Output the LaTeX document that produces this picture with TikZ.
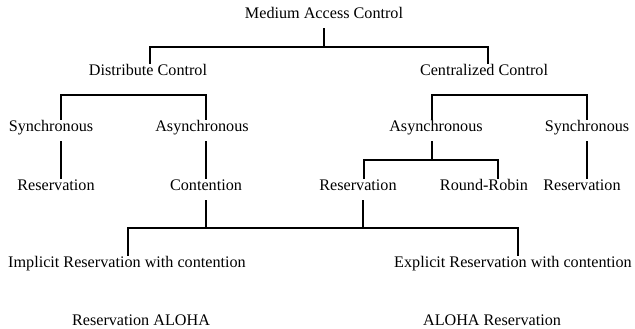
\documentclass[tikz,border=0pt]{standalone}
\usepackage{fontspec}
\setmainfont{Liberation Serif}
\usepackage{tikz}

\begin{document}
\begin{tikzpicture}[x=0.25mm, y=-0.25mm, txt/.style = {inner xsep=0pt, inner ysep=1pt,
	text height=0.7em, text depth=0.2em, font=\fontsize{11.5}{13}\selectfont},
	branch/.style = {line width=1.3pt}, stem/.style = {branch, shorten <=1.25mm}]

	\useasboundingbox (0,0) rectangle (635,329);

	\node (mac) [txt] at (324, 15) {Medium Access Control};

	\node (dc) [txt] at (148, 72) {Distribute Control};
	\node (cc) [txt] at (484, 72) {Centralized Control};

	\node (ds) [txt] at ( 51,128) {Synchronous};
	\node (da) [txt] at (202,128) {Asynchronous};
	\node (ca) [txt] at (436,128) {Asynchronous};
	\node (cs) [txt] at (587,128) {Synchronous};

	\node (dsr)  [txt] at ( 56,187) {Reservation};
	\node (dac)  [txt] at (206,187) {Contention};
	\node (car)  [txt] at (358,187) {Reservation};
	\node (carr) [txt] at (484,187) {Round-Robin};
	\node (csr)  [txt] at (582,187) {Reservation};

	\node (impl) [txt] at (127,264) {Implicit Reservation with contention};
	\node (expl) [txt] at (513,264) {Explicit Reservation with contention};

	% junctions
	\coordinate (j0) at (324, 47);
	\coordinate (j1) at (133, 95);
	\coordinate (j2) at (510, 95);
	\coordinate (j3) at (432,160);
	\coordinate (j4) at (206,228);
	\coordinate (j5) at (363,228);

	\draw[stem] (mac.south) -- (j0);
	\draw[branch] ([xshift=0.5mm]dc.north) |- (j0) -| ([xshift=1mm]cc.north);

	\draw[branch] ([xshift=2.5mm]ds.north) |- (j1) -| ([xshift=1mm]da.north);
	\draw[branch] ([xshift=-1mm]ca.north) |- (j2) -| (cs.north);

	\draw[stem] ([xshift=2.5mm]ds.south) -- ([xshift=1.25mm]dsr.north);
	\draw[stem] ([xshift=1mm]da.south) -- (dac.north);
	\draw[stem] (cs.south) -- ([xshift=1.25mm]csr.north);

	\draw[stem] ([xshift=-1mm]ca.south) -- (j3);
	\draw[branch] ([xshift=1.5mm]car.north) |- (j3) -| ([xshift=3.5mm]carr.north);

	\draw[stem] (dac.south) -- (j4);
	\draw[stem] ([xshift=1.25mm]car.south) -- (j5);
	\draw[branch] ([xshift=0.25mm]impl.north) |- (j4) -| ([xshift=1.25mm]expl.north);

	% Protocols
	\node (ralo) [txt] at (141,322) {Reservation ALOHA};
	\node (alor) [txt] at (492,322) {ALOHA Reservation};
\end{tikzpicture}
\end{document}
